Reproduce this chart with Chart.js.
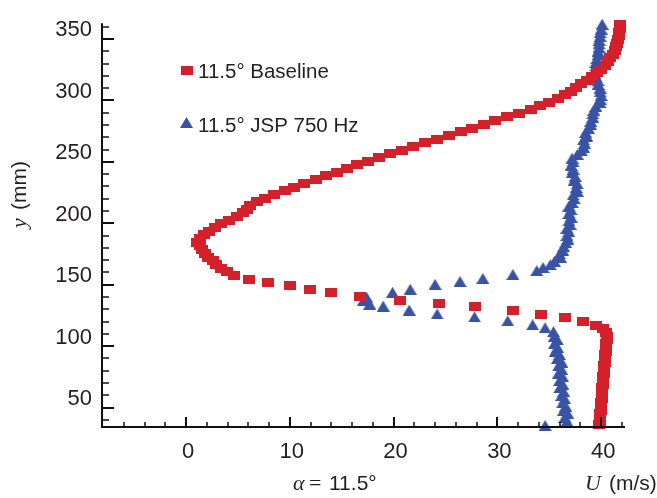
<!DOCTYPE html>
<html lang="en">
<head>
<meta charset="UTF-8">
<title>Velocity profile - alpha 11.5</title>
<script src="https://cdn.jsdelivr.net/npm/chart.js@4.4.0/dist/chart.umd.min.js"></script>
<style>
  * { margin: 0; padding: 0; box-sizing: border-box; }
  body { background: #fff; width: 657px; height: 498px; overflow: hidden; }
  canvas { display: block; }
</style>
</head>
<body>
<canvas id="profile" width="657" height="498"></canvas>
<script>
// Tick labels
const xTicks = [0, 10, 20, 30, 40];
const yTicks = [50, 100, 150, 200, 250, 300, 350];

// 11.5° Baseline (U in m/s, y in mm)
const baselineY = [
  36, 39, 42, 45, 48, 51, 54, 57, 60, 63,
  66, 69, 72, 75, 78, 81, 84, 87, 90, 93,
  96, 99, 102, 105, 108, 111, 114, 117, 120, 123,
  126, 129, 132, 134.5, 137.5, 140.5, 143.8, 146.5, 149.5, 151.5,
  154.5, 157.5, 160.5, 163.5, 166.5, 169.5, 172.5, 175.5, 178.5, 181.5,
  184.5, 187.5, 190.5, 193.5, 196.5, 199.5, 202.5, 205.5, 208.5, 211.5,
  214.5, 217.5, 220.5, 223.5, 226.5, 229.5, 232.5, 235.5, 238.5, 241.5,
  244.5, 247.5, 250.5, 253.5, 256.5, 259.5, 262.5, 265.5, 268.5, 271.5,
  274.5, 277.5, 280.5, 283.5, 286.5, 289.5, 292.5, 295.5, 298.5, 301.5,
  304.5, 307.5, 310.5, 313.5, 316.5, 319.5, 322.5, 325.5, 328.5, 331.5,
  334.5, 337.5, 340.5, 343.5, 346.5, 349.5, 352.5, 355.5, 358.5, 361.5
];
const baselineU = [
  39.8, 39.9, 39.9, 39.9, 40.0, 40.0, 40.0, 40.1, 40.1, 40.1,
  40.1, 40.2, 40.2, 40.2, 40.3, 40.3, 40.3, 40.4, 40.4, 40.4,
  40.5, 40.5, 40.5, 40.6, 40.6, 40.5, 40.2, 39.5, 38.3, 36.5,
  34.2, 31.5, 27.8, 24.4, 20.6, 16.8, 14.0, 11.9, 10.0, 7.9,
  6.1, 4.6, 3.9, 3.4, 2.9, 2.6, 2.1, 1.8, 1.5, 1.3,
  1.05, 1.3, 1.7, 2.2, 2.8, 3.4, 4.1, 4.9, 5.5, 5.9,
  6.2, 6.8, 7.6, 8.5, 9.5, 10.4, 11.4, 12.5, 13.5, 14.5,
  15.5, 16.5, 17.5, 18.6, 19.7, 20.8, 21.9, 23.0, 24.2, 25.3,
  26.5, 27.6, 28.7, 29.8, 30.9, 32.1, 33.2, 34.1, 35.0, 35.8,
  36.5, 37.1, 37.6, 38.1, 38.6, 39.1, 39.6, 40.0, 40.4, 40.7,
  40.9, 41.1, 41.3, 41.4, 41.5, 41.6, 41.7, 41.7, 41.8, 41.8
];

// 11.5° JSP 750 Hz
const jspY = [
  35.5, 39, 42, 45, 48, 51, 54, 57, 60, 63,
  66, 69, 72, 75, 78, 81, 84, 87, 90, 93,
  96, 99, 102, 105, 108, 111.8, 115, 117.4, 120.6, 123.8,
  126.2, 129.4, 132.6, 134.2, 137.4, 139.8, 143.8, 146.3, 150.3, 152.7,
  155.1, 158.3, 161.5, 164, 166.3, 169, 172, 175, 178, 181,
  184, 187, 190, 193, 196, 199, 202, 205, 208, 211,
  214, 217, 220, 223, 226, 229, 232, 235, 238, 241,
  244, 247, 250, 253, 256, 259, 262, 265, 268, 271,
  274, 277, 280, 283, 286, 289, 292, 295, 298, 301,
  304, 307, 310, 313, 316, 319, 322, 325, 328, 331,
  334, 337, 340, 343, 346, 349, 352, 355, 358, 362
];
const jspU = [
  34.6, 36.7, 36.5, 36.8, 36.4, 36.6, 36.3, 36.5, 36.2, 36.4,
  36.0, 36.3, 36.0, 36.3, 35.9, 36.2, 35.9, 36.2, 35.8, 36.0,
  35.6, 35.8, 35.5, 35.8, 35.5, 35.4, 34.6, 33.4, 31.0, 27.8,
  24.2, 21.5, 19.0, 17.7, 17.1, 17.4, 19.9, 21.6, 24.0, 26.4,
  28.6, 31.5, 33.8, 34.4, 35.1, 35.5, 36.1, 36.0, 36.3, 36.4,
  36.6, 36.8, 36.7, 36.9, 36.7, 37.0, 36.9, 37.1, 36.9, 37.1,
  36.9, 37.2, 37.4, 37.3, 37.7, 37.6, 37.7, 37.4, 37.5, 37.2,
  37.3, 37.1, 37.3, 37.2, 37.7, 38.1, 38.3, 38.4, 38.3, 38.6,
  38.5, 38.8, 39.0, 39.0, 39.2, 39.2, 39.3, 39.5, 39.9, 39.9,
  40.0, 39.9, 39.9, 39.7, 39.7, 39.5, 39.4, 39.4, 39.5, 39.5,
  39.6, 39.7, 39.7, 39.8, 39.8, 39.8, 39.9, 39.9, 40.0, 40.1
];

const RED = '#d3202a';
const BLUE = '#3953a4';
const INK = '#231f20';
const SANS = "'Liberation Sans', Arial, sans-serif";
const SERIF = "'Liberation Serif', 'Times New Roman', serif";

// marker images (12x9 squares, flat triangles like the print)
function makeSquare(color) {
  const c = document.createElement('canvas');
  c.width = 12; c.height = 9;
  const g = c.getContext('2d');
  g.fillStyle = color;
  g.fillRect(0, 0, 12, 9);
  return c;
}
function makeTriangle(color) {
  const c = document.createElement('canvas');
  c.width = 13; c.height = 11;
  const g = c.getContext('2d');
  g.fillStyle = color;
  g.beginPath();
  g.moveTo(6.5, 0);
  g.lineTo(13, 11);
  g.lineTo(0, 11);
  g.closePath();
  g.fill();
  return c;
}
const squareMark = makeSquare(RED);
const triangleMark = makeTriangle(BLUE);

function toPoints(us, ys) {
  return us.map((u, i) => ({ x: u, y: ys[i] }));
}

// axis lines with inward ticks, drawn over the markers
const inwardAxes = {
  id: 'inwardAxes',
  afterDatasetsDraw(chart) {
    const { ctx, chartArea: a, scales: { x, y } } = chart;
    ctx.save();
    ctx.strokeStyle = '#111';
    ctx.lineCap = 'butt';
    ctx.lineWidth = 2;
    ctx.beginPath();
    ctx.moveTo(a.left, a.top);
    ctx.lineTo(a.left, a.bottom);
    ctx.lineTo(a.right, a.bottom);
    ctx.stroke();

    for (let v = 40; v <= 360; v += 10) {
      const p = Math.round(y.getPixelForValue(v));
      const major = v % 50 === 0;
      ctx.lineWidth = major ? 2 : 1.5;
      ctx.beginPath();
      ctx.moveTo(a.left, p);
      ctx.lineTo(a.left + (major ? 12 : 7), p);
      ctx.stroke();
    }
    for (let v = -6; v <= 42; v += 2) {
      const p = Math.round(x.getPixelForValue(v));
      const major = v % 10 === 0;
      ctx.lineWidth = major ? 2 : 1.5;
      ctx.beginPath();
      ctx.moveTo(p, a.bottom);
      ctx.lineTo(p, a.bottom - (major ? 10 : 5));
      ctx.stroke();
    }
    ctx.restore();
  }
};

// legend and axis captions
const captions = {
  id: 'captions',
  afterDraw(chart) {
    const { ctx } = chart;
    ctx.save();
    ctx.fillStyle = INK;
    ctx.textBaseline = 'alphabetic';

    // legend
    ctx.drawImage(squareMark, 180.5, 66);
    ctx.drawImage(triangleMark, 180, 117);
    ctx.font = '20.5px ' + SANS;
    ctx.textAlign = 'left';
    ctx.fillText(chart.data.datasets[0].label, 198, 78);
    ctx.fillText(chart.data.datasets[1].label, 198, 132);

    // alpha = 11.5°
    ctx.font = 'italic 22px ' + SERIF;
    ctx.fillText('\u03b1', 293, 490);
    ctx.font = '22px ' + SERIF;
    ctx.fillText('=', 309, 490);
    ctx.font = '21px ' + SANS;
    ctx.fillText('11.5\u00b0', 329, 490);

    // U (m/s)
    ctx.font = 'italic 22px ' + SERIF;
    ctx.fillText('U', 585, 490);
    ctx.font = '21px ' + SANS;
    ctx.fillText('(m/s)', 609, 490);

    // y (mm), rotated
    ctx.translate(26, 228);
    ctx.rotate(-Math.PI / 2);
    ctx.font = 'italic 22px ' + SERIF;
    ctx.fillText('y', 0, 0);
    ctx.font = '21px ' + SANS;
    ctx.fillText('(mm)', 18, 0);
    ctx.restore();
  }
};

const tickFont = { family: SANS, size: 22 };

new Chart(document.getElementById('profile'), {
  type: 'scatter',
  data: {
    datasets: [
      {
        label: '11.5\u00b0 Baseline',
        data: toPoints(baselineU, baselineY),
        pointStyle: squareMark,
        clip: false
      },
      {
        label: '11.5\u00b0 JSP 750 Hz',
        data: toPoints(jspU, jspY),
        pointStyle: triangleMark,
        clip: false
      }
    ]
  },
  options: {
    responsive: false,
    animation: false,
    events: [],
    layout: { padding: { top: 17, right: 32, left: 0, bottom: 0 } },
    plugins: {
      legend: { display: false },
      tooltip: { enabled: false }
    },
    scales: {
      x: {
        type: 'linear',
        min: -8.1,
        max: 42.3,
        afterBuildTicks: (scale) => { scale.ticks = xTicks.map(v => ({ value: v })); },
        afterFit: (scale) => { scale.height = 71; },
        grid: { display: false, drawTicks: false },
        border: { display: false },
        ticks: {
          font: tickFont,
          color: INK,
          padding: 12,
          labelOffset: 2,
          maxRotation: 0,
          autoSkip: false
        }
      },
      y: {
        type: 'linear',
        min: 34.2,
        max: 362.8,
        afterBuildTicks: (scale) => { scale.ticks = yTicks.map(v => ({ value: v })); },
        afterFit: (scale) => { scale.width = 102; },
        grid: { display: false, drawTicks: false },
        border: { display: false },
        ticks: {
          font: tickFont,
          color: INK,
          padding: 10,
          labelOffset: -8.5,
          autoSkip: false
        }
      }
    }
  },
  plugins: [inwardAxes, captions]
});
</script>
</body>
</html>
